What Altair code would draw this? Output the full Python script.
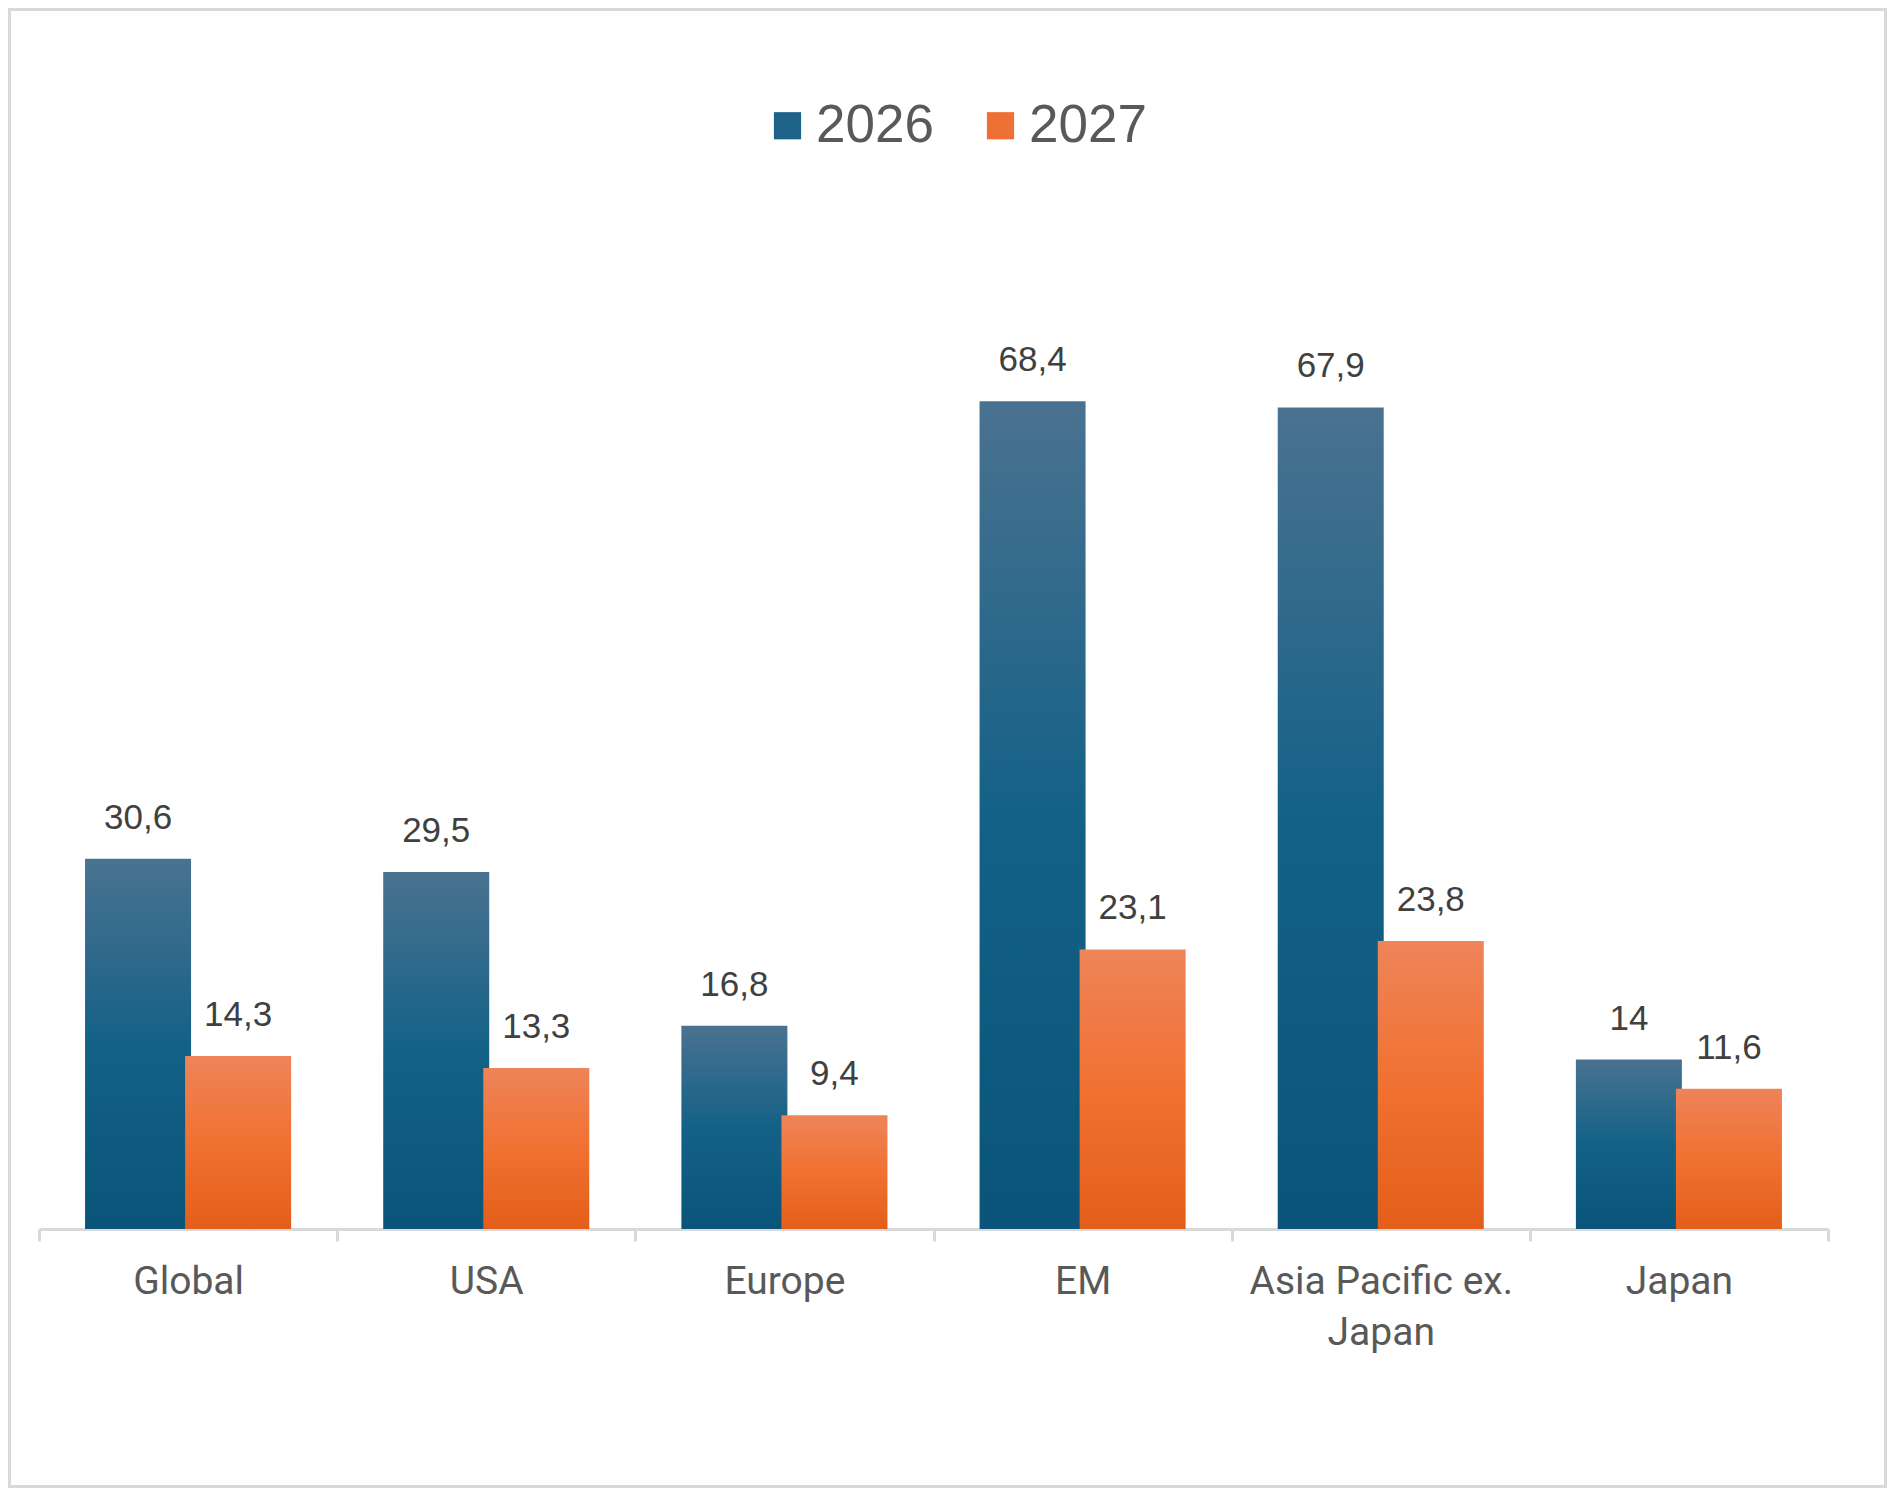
import altair as alt
import pandas as pd

categories = ["Global", "USA", "Europe", "EM", "Asia Pacific ex. Japan", "Japan"]
years = ["2026", "2027"]
values_2026 = [30.6, 29.5, 16.8, 68.4, 67.9, 14]
values_2027 = [14.3, 13.3, 9.4, 23.1, 23.8, 11.6]
series_colors = ["#1d6288", "#ef7034"]

rows = []
for i, c in enumerate(categories):
    rows.append({"category": c, "year": "2026", "value": values_2026[i]})
    rows.append({"category": c, "year": "2027", "value": values_2027[i]})
df = pd.DataFrame(rows)

grad_blue = {
    "gradient": "linear", "x1": 0, "y1": 0, "x2": 0, "y2": 1,
    "stops": [
        {"offset": 0, "color": "#4a7290"},
        {"offset": 0.5, "color": "#146187"},
        {"offset": 1, "color": "#0a5479"},
    ],
}
grad_orange = {
    "gradient": "linear", "x1": 0, "y1": 0, "x2": 0, "y2": 1,
    "stops": [
        {"offset": 0, "color": "#ee8459"},
        {"offset": 0.5, "color": "#f17131"},
        {"offset": 1, "color": "#e35e1a"},
    ],
}

x_enc = alt.X(
    "category:N",
    sort=categories,
    scale=alt.Scale(paddingInner=0, paddingOuter=0),
    axis=alt.Axis(
        title=None,
        labelAngle=0,
        labelFont="Roboto",
        labelFontSize=39,
        labelColor="#595959",
        labelPadding=21,
        labelLineHeight=51,
        labelLimit=0,
        labelExpr="datum.label == 'Asia Pacific ex. Japan' ? ['Asia Pacific ex.', 'Japan'] : datum.label",
        domainColor="#d9d9d9",
        domainWidth=3,
        tickColor="#d9d9d9",
        tickWidth=3,
        tickSize=12,
        tickBand="extent",
        grid=False,
    ),
)
xoff_enc = alt.XOffset("year:N", sort=years, scale=alt.Scale(paddingInner=0, paddingOuter=0.49))
y_enc = alt.Y("value:Q", scale=alt.Scale(domain=[0, 80], nice=False, zero=True), axis=None)

base = alt.Chart(df)

legend_layer = base.mark_square(opacity=0).encode(
    x=x_enc,
    xOffset=xoff_enc,
    y=y_enc,
    color=alt.Color(
        "year:N",
        sort=years,
        scale=alt.Scale(domain=years, range=series_colors),
        legend=alt.Legend(
            title=None,
            orient="none",
            legendX=722,
            legendY=-162,
            direction="horizontal",
            symbolType="square",
            symbolSize=740,
            symbolOpacity=1,
            symbolStrokeWidth=0,
            labelFont="Liberation Sans",
            labelFontSize=53,
            labelColor="#595959",
            labelOffset=2,
            columnPadding=40,
            padding=0,
        ),
    ),
)

bars = base.mark_bar(width=106).encode(
    x=x_enc,
    xOffset=xoff_enc,
    y=y_enc,
    fill=alt.condition(alt.datum.year == "2026", alt.value(grad_blue), alt.value(grad_orange)),
)

labels = base.transform_calculate(
    label="replace(toString(datum.value), '.', ',')"
).mark_text(
    dy=-30, baseline="alphabetic", align="center",
    font="Liberation Sans", fontSize=35, color="#404040",
).encode(
    x=x_enc,
    xOffset=xoff_enc,
    y=y_enc,
    text="label:N",
)

frame = alt.Chart(pd.DataFrame({"k": [0]})).mark_rect(
    fillOpacity=0, stroke="#d9d9d9", strokeWidth=3
).encode(
    x=alt.value(-29.5), x2=alt.value(1846.5),
    y=alt.value(-251.5), y2=alt.value(1225.5),
)

chart = alt.layer(frame, legend_layer, bars, labels).properties(
    width=1789,
    height=968,
    autosize=alt.AutoSizeParams(type="none"),
    padding={"left": 31, "top": 253, "right": 59, "bottom": 259},
    background="white",
).configure(font="Liberation Sans").configure_view(strokeWidth=0, stroke="transparent")

chart.save("out.html", embed_options={"renderer": "svg", "actions": False})
